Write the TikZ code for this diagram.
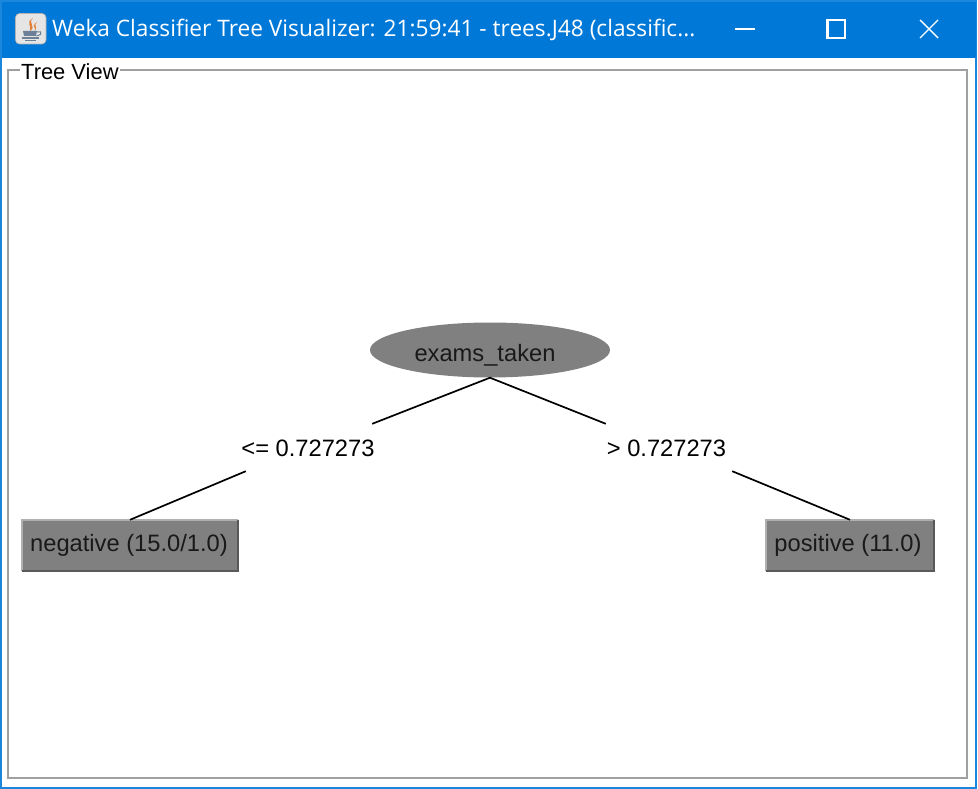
\documentclass[tikz,border=0pt]{standalone}
\usepackage{fontspec}
\setmainfont{Liberation Sans}
\newfontfamily\titlefont{Open Sans}
\usetikzlibrary{positioning, shapes.geometric}
\definecolor{wkBlue}{HTML}{0078D7}
\definecolor{wkEdge}{HTML}{1A86DC}
\definecolor{wkFrame}{HTML}{A0A0A0}
\definecolor{wkNode}{HTML}{808080}
\definecolor{wkLight}{HTML}{B0B0B0}
\definecolor{wkDark}{HTML}{595959}
\definecolor{wkCup}{HTML}{6C8197}
\definecolor{wkSteam}{HTML}{E0803A}
\newcommand{\placed}[3]{\raisebox{#2}[0pt][0pt]{\hspace*{#1}\makebox[0pt]{#3}\hspace*{-#1}}}
\tikzset{
  treenode/.style={
    ellipse, fill=wkNode, inner sep=0pt, minimum width=240pt, minimum height=55pt,
    font=\fontsize{23.7}{24}\selectfont, text=black!90
  },
  leaf/.style={
    rectangle, fill=wkNode, inner sep=0pt, minimum height=51pt,
    font=\fontsize{23.7}{24}\selectfont, text=black!90
  },
  branch/.style={
    rectangle, inner sep=0pt, minimum width=126pt, minimum height=47pt,
    font=\fontsize{23.7}{24}\selectfont
  },
  link/.style={line width=1.7pt, draw=black},
  winctl/.style={line width=2.2pt, draw=white},
  titletext/.style={font=\titlefont\fontsize{22.7}{24}\selectfont, text=white, inner sep=0pt},
  grouplabel/.style={font=\fontsize{21.9}{22}\selectfont, fill=white, inner sep=1pt},
}
\begin{document}
\begin{tikzpicture}[x=1pt, y=-1pt]
  \useasboundingbox (0,0) rectangle (978,789);

  % window
  \fill[white] (0,0) rectangle (978,789);
  \draw[wkEdge, line width=2pt] (1,1) rectangle (976,788);
  \fill[wkBlue] (2,2) rectangle (976,58);
  \draw[wkFrame, line width=2pt] (8,70) rectangle (967,778);
  \node[grouplabel, anchor=west] (group) at (20,72) {Tree View};

  % java icon
  \fill[white!90!black, draw=white!70!black, line width=0.6pt, rounded corners=4pt] (15.5,13.5) rectangle (46,44);
  \fill[wkSteam] (33,18) .. controls (27,23) and (37,26) .. (30,31) .. controls (32,25) and (25,23) .. (33,18);
  \fill[wkSteam] (37,22) .. controls (33,25) and (38,27) .. (35,31) .. controls (36,27) and (31,26) .. (37,22);
  \fill[wkCup] (23,31) -- (37,31) -- (36,36) -- (24,36) -- cycle;
  \draw[wkCup, line width=1pt] (37,32) -- (40.5,32) -- (40.5,34.5) -- (36.5,36);
  \draw[wkCup, line width=1.2pt] (21.5,38) -- (39,38);
  \draw[wkCup, line width=1pt] (25,41) -- (36,41);

  % title bar
  \node[titletext, anchor=west] (title) at (52,30) {Weka Classifier Tree Visualizer: 21:59:41 - trees.J48 (classific...};
  \draw[winctl] (735,29) -- (755,29);
  \draw[winctl] (827.5,20) rectangle (845,38);
  \draw[winctl, line width=1.4pt] (920,20) -- (938,38);
  \draw[winctl, line width=1.4pt] (938,20) -- (920,38);

  % tree
  \node[treenode] (exams) at (490,350) {\placed{-5pt}{-11.5pt}{exams\_taken}};
  \node[branch] (le) at (309,447.5) {\placed{-1pt}{-8.5pt}{<= 0.727273}};
  \node[branch] (gt) at (669,447.5) {\placed{-2.5pt}{-8.5pt}{> 0.727273}};
  \node[leaf, minimum width=216pt] (neg) at (130,545.5) {\placed{-1pt}{-6pt}{negative (15.0/1.0)}};
  \node[leaf, minimum width=168pt] (pos) at (850,545.5) {\placed{-2pt}{-6pt}{positive (11.0)}};

  % raised edges on the leaves
  \foreach \leafname in {neg, pos} {
    \draw[wkLight, line width=2pt] (\leafname.south west) -- (\leafname.north west) -- (\leafname.north east);
    \draw[wkDark, line width=2pt] (\leafname.north east) -- (\leafname.south east) -- (\leafname.south west);
  }

  \draw[link] (exams.south) -- (le.north east);
  \draw[link] (exams.south) -- (gt.north west);
  \draw[link] (le.south west) -- (neg.north);
  \draw[link] (gt.south east) -- (pos.north);
\end{tikzpicture}
\end{document}
